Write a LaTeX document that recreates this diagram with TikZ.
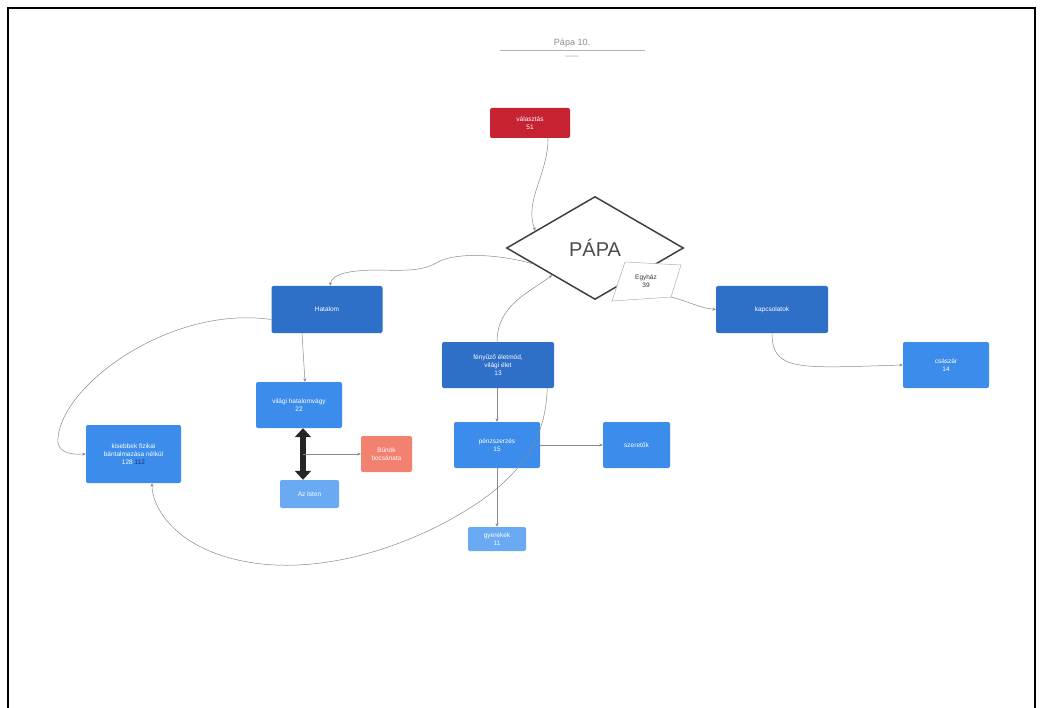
\documentclass[tikz,border=0pt]{standalone}
\usepackage{fontspec}
\setmainfont{Liberation Sans}
\usetikzlibrary{shapes.geometric,arrows.meta,calc}
\definecolor{dblue}{HTML}{2E6FC7}
\definecolor{mblue}{HTML}{3B8CEB}
\definecolor{lblue}{HTML}{6AAAF2}
\definecolor{vred}{HTML}{C72231}
\definecolor{salm}{HTML}{F2816F}
\definecolor{conn}{HTML}{8A8A8A}
\definecolor{navy}{HTML}{1B2F7A}
\tikzset{
  box/.style={rectangle, rounded corners=2pt, text=white, align=center, inner sep=0pt,
    font=\fontsize{6.5}{8}\selectfont},
  bx/.style 2 args={box, minimum width=#1pt, minimum height=#2pt},
  conn/.style={draw=conn, line width=0.5pt, -{Stealth[length=3.5pt,width=3pt]}},
}
\begin{document}
\begin{tikzpicture}[x=1pt,y=-1pt]
\useasboundingbox (0,0) rectangle (1040,708);
\fill[white] (0,0) rectangle (1040,708);
\draw[line width=1.6pt] (8,708) -- (8,8) -- (1035,8) -- (1035,708);
% title
\node[text=gray!90, font=\fontsize{9}{10}\selectfont] (title) at (572,43) {Pápa 10.};
\draw[gray!60, line width=0.5pt] (500,50) -- (645,50);
\node[text=gray!70, font=\fontsize{3}{3.5}\selectfont] (sub) at (572,56.5) {készítette};
% nodes
\node[bx={80}{30}, fill=vred] (valaszt) at (530,123) {választás\\51};
\node[diamond, draw=black!75, line width=1.5pt, fill=white, minimum width=177pt, minimum height=103pt,
  inner sep=0pt, text=black!70, font=\fontsize{20}{22}\selectfont] (papa) at (595,248) {PÁPA};
\draw[draw=black!30, fill=white, line width=0.5pt] (625,262) -- (681,265) -- (671,297) -- (612,301) -- cycle;
\node[text=black!80, align=center, font=\fontsize{6.5}{8}\selectfont, inner sep=0pt] (egyhaz) at (646,281) {Egyház\\39};
\coordinate (egybr) at (671,297);
\node[bx={111}{47}, fill=dblue] (hatalom) at (327,309.5) {Hatalom};
\node[bx={112}{47}, fill=dblue] (kapcs) at (772,309.5) {kapcsolatok};
\node[bx={112}{46}, fill=dblue] (fenyuzo) at (498,365) {fényűző életmód,\\világi élet\\13};
\node[bx={86}{46}, fill=mblue] (vallas) at (299,405) {világi hatalomvágy\\22};
\node[bx={86}{46}, fill=mblue] (csaszar) at (946,365) {császár\\14};
\node[bx={95}{58}, fill=mblue] (kisebb) at (133.5,454) {kisebbek fizikai\\bántalmazása nélkül\\128 \textcolor{navy}{112}};
\node[bx={86}{46}, fill=mblue] (penz) at (497,445) {pénzszerzés\\15};
\node[bx={67}{46}, fill=mblue] (szeret) at (636.5,445) {szeretők};
\node[bx={51}{36}, fill=salm] (bunok) at (386.5,454) {Bűnök\\bocsánata};
\node[bx={59}{28}, fill=lblue] (isten) at (309.5,494) {Az Isten};
\node[bx={58}{24}, fill=lblue] (gyerek) at (497,539) {gyerekek\\11};
% connectors
\draw[conn] ([xshift=18]valaszt.south) .. controls (548,175) and (524,200) .. ($(papa.west)!0.33!(papa.north)$);
\draw[conn] ($(papa.west)!0.3!(papa.south)$) .. controls (490,252) and (452,254) .. (438,262)
  .. controls (425,270) and (410,271) .. (380,270) .. controls (345,270) and (332,275) .. ([xshift=3]hatalom.north);
\draw[conn] ([xshift=-25]hatalom.south) -- ([xshift=6]vallas.north);
\draw[conn] ([yshift=-10]hatalom.west) .. controls (170,305) and (62,385) .. (58,438)
  .. controls (56,452) and (70,455) .. (kisebb.west);
\draw[conn] ([xshift=-1]fenyuzo.south) -- (penz.north);
\draw[conn] (penz.east) -- (szeret.west);
\draw[conn] (penz.south) -- (gyerek.north);
\draw[conn] ([xshift=-1]fenyuzo.north) .. controls (497,305) and (530,292) .. ($(papa.west)!0.52!(papa.south)$);
\draw[conn] ([xshift=-7]fenyuzo.south east) .. controls (546,430) and (530,470) .. (470,508)
  .. controls (400,552) and (300,582) .. (220,555) .. controls (170,538) and (152,505) .. ([xshift=18.5]kisebb.south);
\draw[conn] (egybr) .. controls (690,302) and (700,308) .. (kapcs.west);
\draw[conn] (kapcs.south) .. controls (772,372) and (800,368) .. (csaszar.west);
% thick double arrow
\draw[line width=6pt, black!85, {Triangle[length=9pt,width=16pt]}-{Triangle[length=9pt,width=16pt]}]
  ([xshift=4]vallas.south) -- ([xshift=-6.5]isten.north);
\coordinate (dm) at (303,454);
\draw[conn] (dm) -- (bunok.west);
\end{tikzpicture}
\end{document}
